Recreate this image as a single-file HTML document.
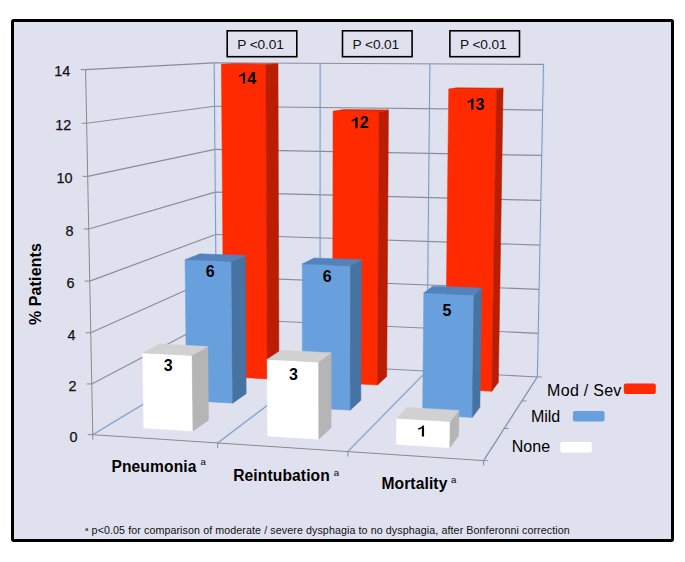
<!DOCTYPE html>
<html><head><meta charset="utf-8"><style>
html,body{margin:0;padding:0;background:#fff;}
body{width:685px;height:562px;overflow:hidden;position:relative;}
svg{position:absolute;left:0;top:0;}
text{font-family:"Liberation Sans",sans-serif;}
.vl{font-weight:bold;font-size:16px;fill:#000;}
.cl{font-weight:bold;font-size:15.6px;fill:#000;letter-spacing:0.12px;}
.sup{font-size:9.6px;fill:#000;}
.lg{font-size:16px;fill:#000;}
.pb{font-size:13.7px;fill:#111;letter-spacing:-0.1px;}
.fn{font-size:10.7px;fill:#111;letter-spacing:0.088px;}
.yl{font-size:14.4px;fill:#111;stroke:#111;stroke-width:0.25px;}
</style></head><body>
<svg width="685" height="562" viewBox="0 0 685 562">
<rect x="12.5" y="20.5" width="660" height="520" rx="1.2" fill="#e0e1ef" stroke="#000" stroke-width="3"/>
<line x1="218.01" y1="360.01" x2="215.44" y2="62.85" stroke="#d3def2" stroke-width="1.2"/>
<line x1="92.18" y1="433.70" x2="216.11" y2="359.01" stroke="#d3def2" stroke-width="1.4"/>
<line x1="321.30" y1="365.47" x2="321.44" y2="63.34" stroke="#d3def2" stroke-width="1.2"/>
<line x1="217.08" y1="441.98" x2="319.40" y2="364.47" stroke="#d3def2" stroke-width="1.4"/>
<line x1="428.11" y1="371.11" x2="431.16" y2="63.84" stroke="#d3def2" stroke-width="1.2"/>
<line x1="347.25" y1="450.61" x2="426.21" y2="370.11" stroke="#d3def2" stroke-width="1.4"/>
<line x1="538.63" y1="376.95" x2="544.79" y2="64.37" stroke="#d3def2" stroke-width="1.2"/>
<line x1="483.05" y1="459.61" x2="536.73" y2="375.95" stroke="#d3def2" stroke-width="1.4"/>
<line x1="216.71" y1="360.01" x2="537.33" y2="376.95" stroke="#8a8d99" stroke-width="1.15"/>
<line x1="216.35" y1="318.49" x2="538.19" y2="333.33" stroke="#8a8d99" stroke-width="1.15"/>
<line x1="215.99" y1="276.67" x2="539.05" y2="289.37" stroke="#8a8d99" stroke-width="1.15"/>
<line x1="215.62" y1="234.54" x2="539.93" y2="245.07" stroke="#8a8d99" stroke-width="1.15"/>
<line x1="215.26" y1="192.10" x2="540.81" y2="200.42" stroke="#8a8d99" stroke-width="1.15"/>
<line x1="214.89" y1="149.33" x2="541.69" y2="155.43" stroke="#8a8d99" stroke-width="1.15"/>
<line x1="214.51" y1="106.25" x2="542.59" y2="110.08" stroke="#8a8d99" stroke-width="1.15"/>
<line x1="214.14" y1="62.85" x2="543.49" y2="64.37" stroke="#8a8d99" stroke-width="1.15"/>
<line x1="91.78" y1="383.96" x2="216.35" y2="318.49" stroke="#8a8d99" stroke-width="1.15"/>
<line x1="90.77" y1="332.76" x2="215.99" y2="276.67" stroke="#8a8d99" stroke-width="1.15"/>
<line x1="89.75" y1="281.09" x2="215.62" y2="234.54" stroke="#8a8d99" stroke-width="1.15"/>
<line x1="88.72" y1="228.95" x2="215.26" y2="192.10" stroke="#8a8d99" stroke-width="1.15"/>
<line x1="87.68" y1="176.33" x2="214.89" y2="149.33" stroke="#8a8d99" stroke-width="1.15"/>
<line x1="86.63" y1="123.22" x2="214.51" y2="106.25" stroke="#8a8d99" stroke-width="1.15"/>
<line x1="85.58" y1="69.62" x2="214.14" y2="62.85" stroke="#8a8d99" stroke-width="1.15"/>
<line x1="216.71" y1="360.01" x2="214.14" y2="62.85" stroke="#7f9cc6" stroke-width="1.1"/>
<line x1="92.78" y1="434.70" x2="216.71" y2="360.01" stroke="#7f9cc6" stroke-width="1.1"/>
<line x1="320.00" y1="365.47" x2="320.14" y2="63.34" stroke="#7f9cc6" stroke-width="1.1"/>
<line x1="217.68" y1="442.98" x2="320.00" y2="365.47" stroke="#7f9cc6" stroke-width="1.1"/>
<line x1="426.81" y1="371.11" x2="429.86" y2="63.84" stroke="#7f9cc6" stroke-width="1.1"/>
<line x1="347.85" y1="451.61" x2="426.81" y2="371.11" stroke="#7f9cc6" stroke-width="1.1"/>
<line x1="537.33" y1="376.95" x2="543.49" y2="64.37" stroke="#7f9cc6" stroke-width="1.1"/>
<line x1="483.65" y1="460.61" x2="537.33" y2="376.95" stroke="#7f9cc6" stroke-width="1.1"/>
<line x1="92.78" y1="434.70" x2="85.58" y2="69.62" stroke="#8a8a8a" stroke-width="1.0"/>
<line x1="92.78" y1="434.70" x2="87.78" y2="434.70" stroke="#8a8a8a" stroke-width="1.0"/>
<line x1="91.78" y1="383.96" x2="86.78" y2="383.96" stroke="#8a8a8a" stroke-width="1.0"/>
<line x1="90.77" y1="332.76" x2="85.77" y2="332.76" stroke="#8a8a8a" stroke-width="1.0"/>
<line x1="89.75" y1="281.09" x2="84.75" y2="281.09" stroke="#8a8a8a" stroke-width="1.0"/>
<line x1="88.72" y1="228.95" x2="83.72" y2="228.95" stroke="#8a8a8a" stroke-width="1.0"/>
<line x1="87.68" y1="176.33" x2="82.68" y2="176.33" stroke="#8a8a8a" stroke-width="1.0"/>
<line x1="86.63" y1="123.22" x2="81.63" y2="123.22" stroke="#8a8a8a" stroke-width="1.0"/>
<line x1="85.58" y1="69.62" x2="80.58" y2="69.62" stroke="#8a8a8a" stroke-width="1.0"/>
<line x1="92.78" y1="434.70" x2="483.65" y2="460.61" stroke="#8a8a8a" stroke-width="1.0"/>
<line x1="92.78" y1="434.70" x2="92.78" y2="439.70" stroke="#8a8a8a" stroke-width="1.0"/>
<line x1="217.68" y1="442.98" x2="217.68" y2="447.98" stroke="#8a8a8a" stroke-width="1.0"/>
<line x1="347.85" y1="451.61" x2="347.85" y2="456.61" stroke="#8a8a8a" stroke-width="1.0"/>
<line x1="483.65" y1="460.61" x2="483.65" y2="465.61" stroke="#8a8a8a" stroke-width="1.0"/>
<line x1="483.65" y1="460.61" x2="537.33" y2="376.95" stroke="#8a94a6" stroke-width="1.0"/>
<line x1="483.65" y1="460.61" x2="488.15" y2="460.61" stroke="#8a94a6" stroke-width="1.0"/>
<line x1="504.23" y1="428.53" x2="508.73" y2="428.53" stroke="#8a94a6" stroke-width="1.0"/>
<line x1="521.94" y1="400.93" x2="526.44" y2="400.93" stroke="#8a94a6" stroke-width="1.0"/>
<line x1="537.33" y1="376.95" x2="541.83" y2="376.95" stroke="#8a94a6" stroke-width="1.0"/>
<polygon points="221.38,64.34 265.86,64.55 267.18,378.89 223.89,376.49" fill="#ff2a00" stroke="#ff2a00" stroke-width="0.5" stroke-linejoin="round"/>
<polygon points="265.86,64.55 277.98,63.80 278.95,370.61 267.18,378.89" fill="#bb1d02" stroke="#bb1d02" stroke-width="0.5" stroke-linejoin="round"/>
<polygon points="221.38,64.34 234.51,63.60 277.98,63.80 265.86,64.55" fill="#e82400" stroke="#e82400" stroke-width="0.5" stroke-linejoin="round"/>
<polygon points="333.05,111.34 378.97,111.91 377.46,385.00 332.62,382.52" fill="#ff2a00" stroke="#ff2a00" stroke-width="0.5" stroke-linejoin="round"/>
<polygon points="378.97,111.91 388.44,109.96 386.74,376.43 377.46,385.00" fill="#bb1d02" stroke="#bb1d02" stroke-width="0.5" stroke-linejoin="round"/>
<polygon points="333.05,111.34 343.59,109.43 388.44,109.96 378.97,111.91" fill="#e82400" stroke="#e82400" stroke-width="0.5" stroke-linejoin="round"/>
<polygon points="448.72,89.15 496.45,89.55 491.72,391.34 445.26,388.76" fill="#ff2a00" stroke="#ff2a00" stroke-width="0.5" stroke-linejoin="round"/>
<polygon points="496.45,89.55 503.11,88.14 498.33,382.46 491.72,391.34" fill="#bb1d02" stroke="#bb1d02" stroke-width="0.5" stroke-linejoin="round"/>
<polygon points="448.72,89.15 456.54,87.75 503.11,88.14 496.45,89.55" fill="#e82400" stroke="#e82400" stroke-width="0.5" stroke-linejoin="round"/>
<polygon points="185.02,259.69 231.64,261.40 232.68,403.16 186.62,400.41" fill="#68a0dd" stroke="#68a0dd" stroke-width="0.5" stroke-linejoin="round"/>
<polygon points="231.64,261.40 245.30,255.49 246.14,393.68 232.68,403.16" fill="#4773a3" stroke="#4773a3" stroke-width="0.5" stroke-linejoin="round"/>
<polygon points="185.02,259.69 199.78,253.87 245.30,255.49 231.64,261.40" fill="#5283bd" stroke="#5283bd" stroke-width="0.5" stroke-linejoin="round"/>
<polygon points="302.23,263.99 350.66,265.77 350.21,410.17 302.39,407.32" fill="#68a0dd" stroke="#68a0dd" stroke-width="0.5" stroke-linejoin="round"/>
<polygon points="350.66,265.77 361.43,259.64 360.85,400.34 350.21,410.17" fill="#4773a3" stroke="#4773a3" stroke-width="0.5" stroke-linejoin="round"/>
<polygon points="302.23,263.99 314.19,257.95 361.43,259.64 350.66,265.77" fill="#5283bd" stroke="#5283bd" stroke-width="0.5" stroke-linejoin="round"/>
<polygon points="423.78,293.06 474.02,295.10 472.30,417.45 422.62,414.49" fill="#68a0dd" stroke="#68a0dd" stroke-width="0.5" stroke-linejoin="round"/>
<polygon points="474.02,295.10 481.64,288.08 479.89,407.24 472.30,417.45" fill="#4773a3" stroke="#4773a3" stroke-width="0.5" stroke-linejoin="round"/>
<polygon points="423.78,293.06 432.69,286.15 481.64,288.08 474.02,295.10" fill="#5283bd" stroke="#5283bd" stroke-width="0.5" stroke-linejoin="round"/>
<polygon points="142.61,352.89 192.13,355.48 192.95,431.10 143.75,427.92" fill="#ffffff" stroke="#ffffff" stroke-width="0.5" stroke-linejoin="round"/>
<polygon points="192.13,355.48 207.81,346.56 208.50,420.16 192.95,431.10" fill="#b5b5b5" stroke="#b5b5b5" stroke-width="0.5" stroke-linejoin="round"/>
<polygon points="142.61,352.89 159.53,344.12 207.81,346.56 192.13,355.48" fill="#d1d1d1" stroke="#d1d1d1" stroke-width="0.5" stroke-linejoin="round"/>
<polygon points="267.20,359.40 318.78,362.10 318.75,439.22 267.52,435.91" fill="#ffffff" stroke="#ffffff" stroke-width="0.5" stroke-linejoin="round"/>
<polygon points="318.78,362.10 331.19,352.82 331.08,427.84 318.75,439.22" fill="#b5b5b5" stroke="#b5b5b5" stroke-width="0.5" stroke-linejoin="round"/>
<polygon points="267.20,359.40 280.96,350.27 331.19,352.82 318.78,362.10" fill="#d1d1d1" stroke="#d1d1d1" stroke-width="0.5" stroke-linejoin="round"/>
<polygon points="396.62,418.35 450.13,421.59 449.82,447.69 396.44,444.24" fill="#ffffff" stroke="#ffffff" stroke-width="0.5" stroke-linejoin="round"/>
<polygon points="450.13,421.59 458.96,410.45 458.64,435.83 449.82,447.69" fill="#b5b5b5" stroke="#b5b5b5" stroke-width="0.5" stroke-linejoin="round"/>
<polygon points="396.62,418.35 406.91,407.39 458.96,410.45 450.13,421.59" fill="#d1d1d1" stroke="#d1d1d1" stroke-width="0.5" stroke-linejoin="round"/>
<text x="163.86" y="371.2" class="vl">3</text>
<text x="205.65" y="277.4" class="vl">6</text>
<path d="M585,0 L865,0 L865,1409 L672,1409 C640,1330 560,1250 460,1190 C360,1130 240,1090 110,1065 L110,850 C260,880 420,950 585,1060 Z" transform="translate(238.31,83.56) scale(0.007812,-0.007812)" fill="#000"/>
<text x="247.21" y="83.6" class="vl">4</text>
<text x="288.96" y="380.2" class="vl">3</text>
<text x="322.75" y="281.6" class="vl">6</text>
<path d="M585,0 L865,0 L865,1409 L672,1409 C640,1330 560,1250 460,1190 C360,1130 240,1090 110,1065 L110,850 C260,880 420,950 585,1060 Z" transform="translate(350.79,128.36) scale(0.007812,-0.007812)" fill="#000"/>
<text x="359.69" y="128.4" class="vl">2</text>
<path d="M585,0 L865,0 L865,1409 L672,1409 C640,1330 560,1250 460,1190 C360,1130 240,1090 110,1065 L110,850 C260,880 420,950 585,1060 Z" transform="translate(417.29,436.46) scale(0.007812,-0.007812)" fill="#000"/>
<text x="442.53" y="315.5" class="vl">5</text>
<path d="M585,0 L865,0 L865,1409 L672,1409 C640,1330 560,1250 460,1190 C360,1130 240,1090 110,1065 L110,850 C260,880 420,950 585,1060 Z" transform="translate(466.66,109.56) scale(0.007812,-0.007812)" fill="#000"/>
<text x="475.56" y="109.6" class="vl">3</text>
<text x="77.5" y="441.5" text-anchor="end" class="yl">0</text>
<text x="76.5" y="390.8" text-anchor="end" class="yl">2</text>
<text x="75.5" y="339.6" text-anchor="end" class="yl">4</text>
<text x="74.4" y="287.9" text-anchor="end" class="yl">6</text>
<text x="73.4" y="235.7" text-anchor="end" class="yl">8</text>
<text x="72.4" y="183.1" text-anchor="end" class="yl">10</text>
<text x="71.3" y="130.0" text-anchor="end" class="yl">12</text>
<text x="70.3" y="76.4" text-anchor="end" class="yl">14</text>
<g fill="none" stroke="#000" stroke-width="1.6">
<rect x="227.2" y="30.8" width="69.6" height="25.9"/>
<rect x="342.5" y="30.8" width="69.6" height="25.9"/>
<rect x="449.9" y="30.8" width="69.6" height="25.9"/>
</g>
<text x="237.2" y="48.8" class="pb">P &lt;0.01</text>
<text x="352.5" y="48.8" class="pb">P &lt;0.01</text>
<text x="459.9" y="48.8" class="pb">P &lt;0.01</text>
<text transform="translate(40.6,325.1) rotate(-90)" class="cl" style="font-size:16px">% Patients</text>
<text x="111.4" y="471.8" class="cl">Pneumonia</text><text x="200.6" y="465.3" class="sup">a</text>
<text x="233.2" y="480.7" class="cl">Reintubation</text><text x="333.8" y="475.6" class="sup">a</text>
<text x="381.4" y="488.9" class="cl">Mortality</text><text x="450.9" y="482.7" class="sup">a</text>
<text x="547.1" y="395.8" class="lg" style="letter-spacing:0.28px">Mod / Sev</text>
<text x="530.9" y="421.9" class="lg">Mild</text>
<text x="511.7" y="451.7" class="lg" style="letter-spacing:0.1px">None</text>
<rect x="623.8" y="383.5" width="32" height="10.5" rx="2" fill="#ff2a00"/>
<rect x="572.9" y="410.9" width="31.7" height="10.5" rx="2" fill="#68a0dd"/>
<rect x="560.3" y="442" width="31.5" height="10.5" rx="2" fill="#fff"/>
<text x="85" y="530.5" style="font-size:6px">a</text>
<text x="91.6" y="534.2" class="fn">p&lt;0.05 for comparison of moderate / severe dysphagia to no dysphagia, after Bonferonni correction</text>
</svg>
</body></html>
